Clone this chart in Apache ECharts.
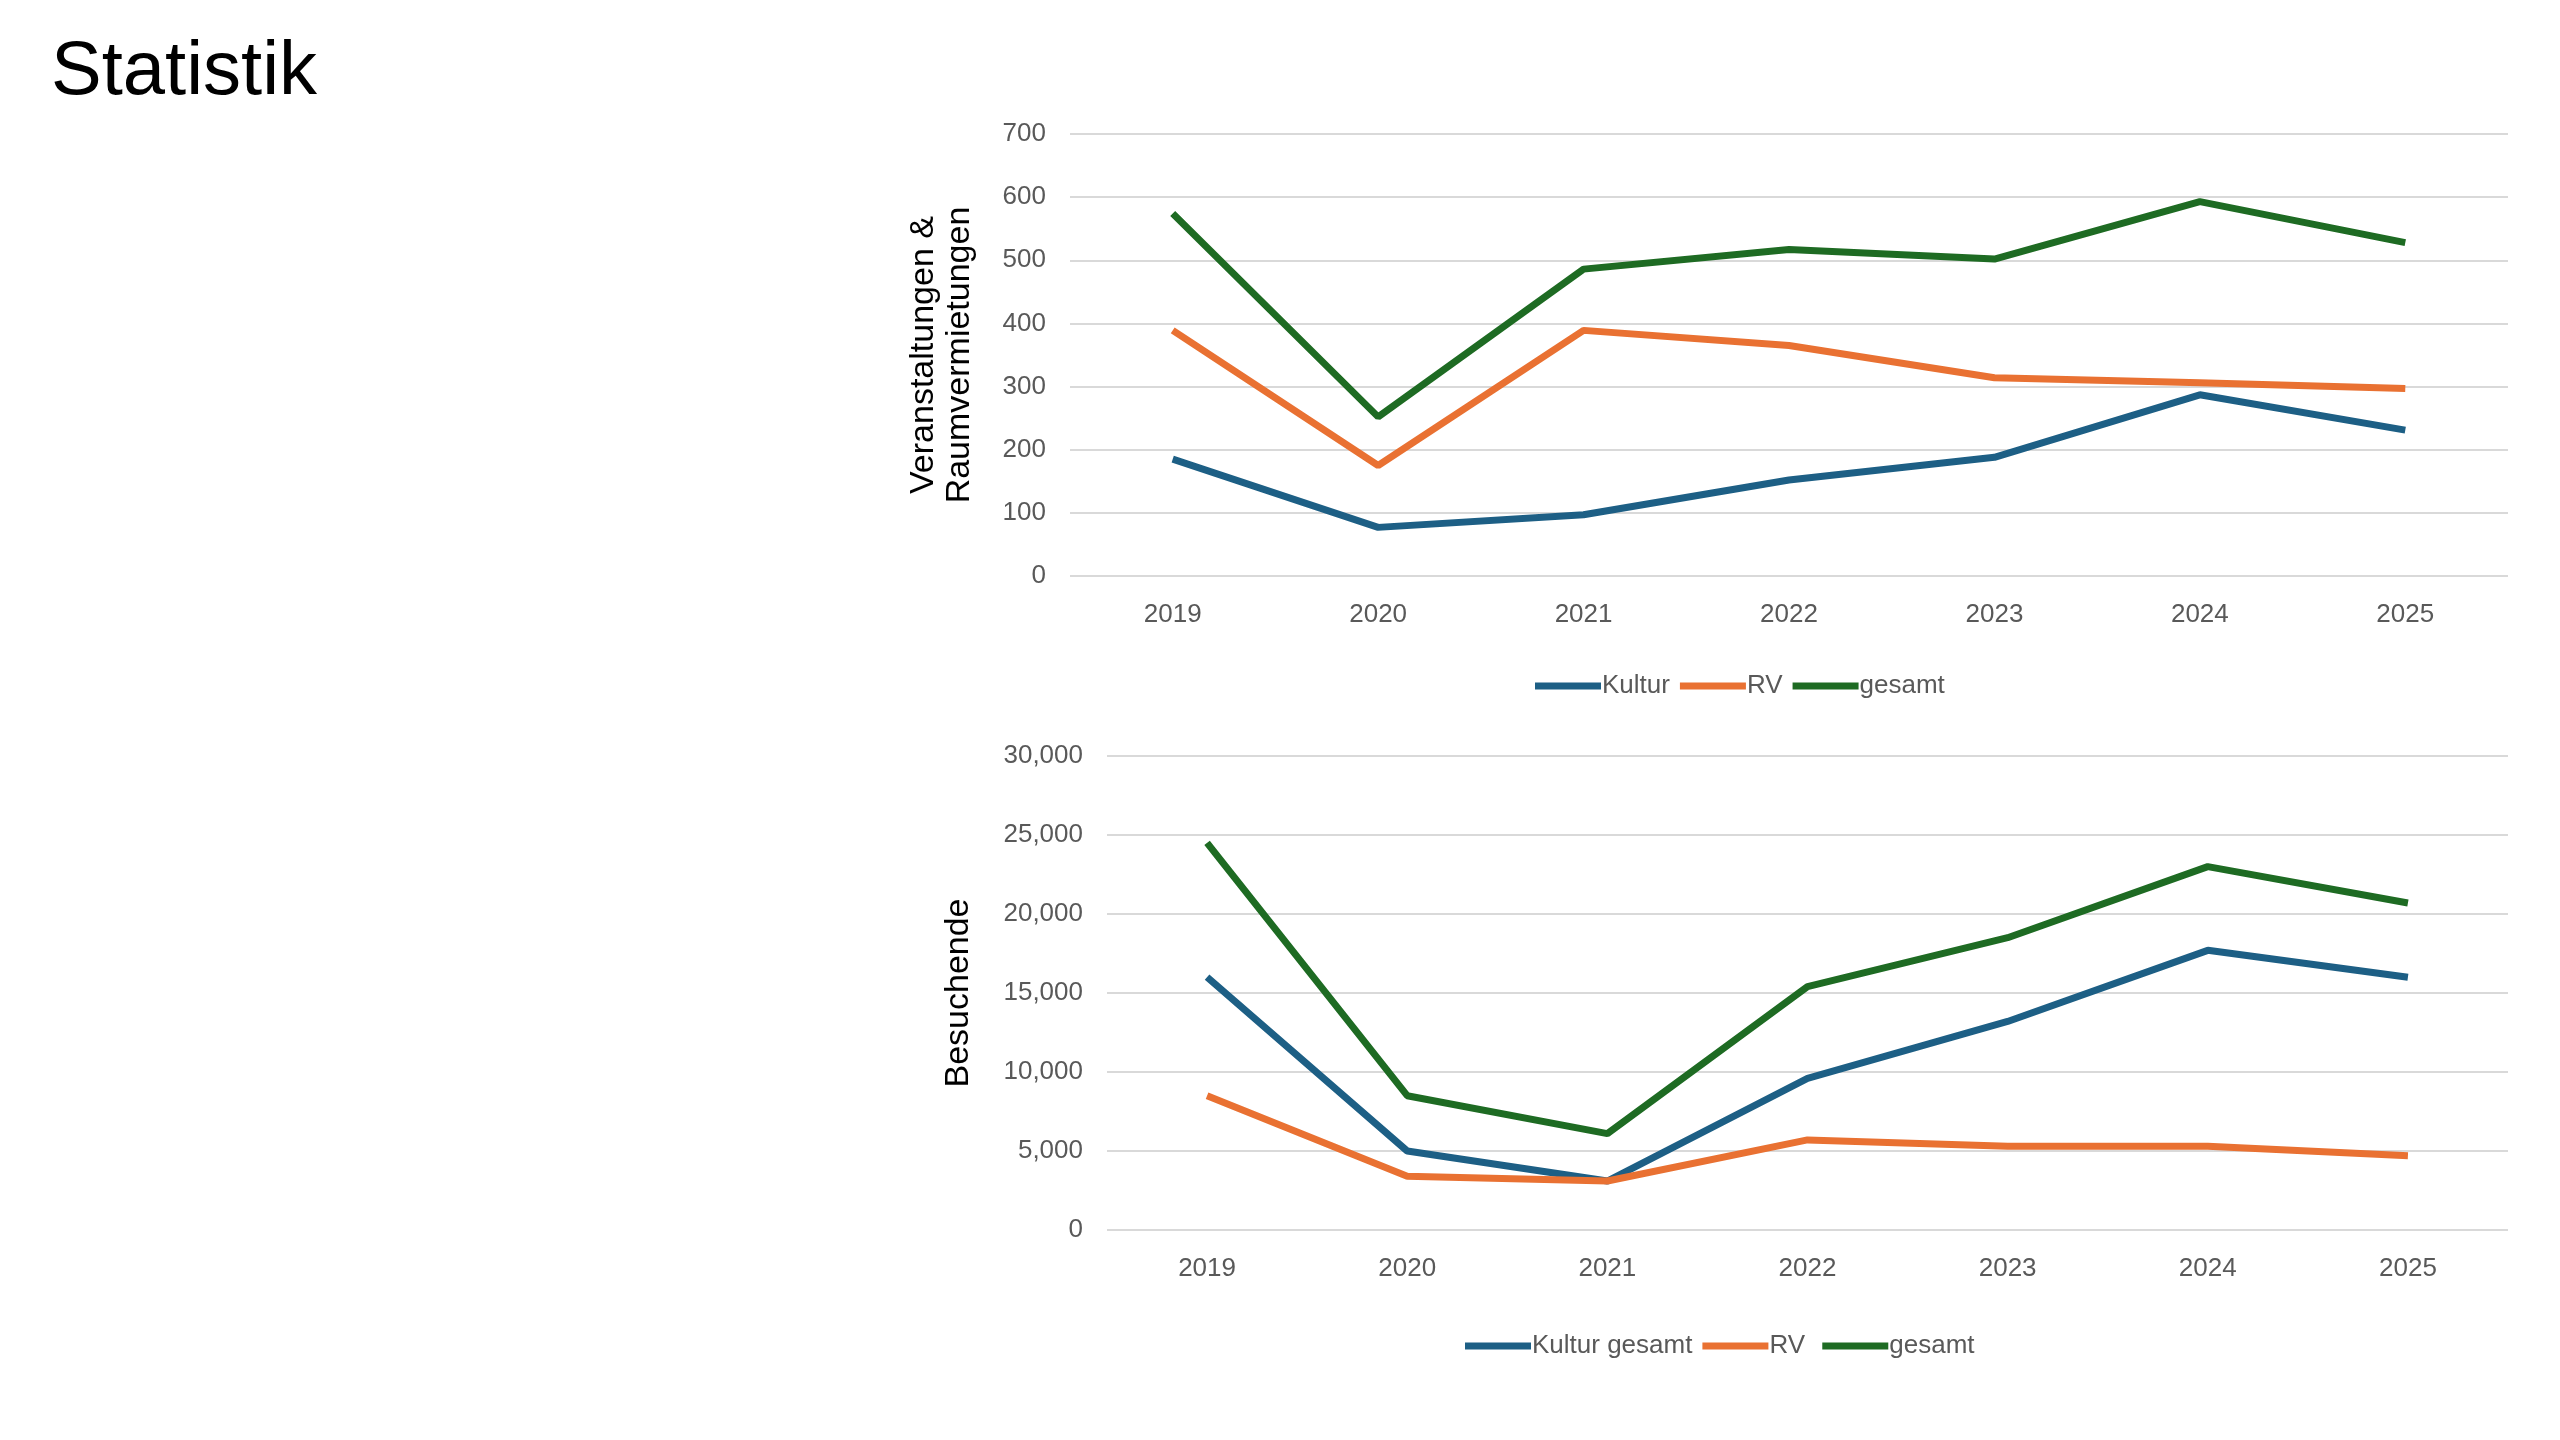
<!DOCTYPE html>
<html>
<head>
<meta charset="utf-8">
<script src="https://cdn.jsdelivr.net/npm/echarts@6/dist/echarts.min.js"></script>
<style>
  html, body { margin: 0; padding: 0; background: #fff; }
  #chart { width: 2560px; height: 1440px; }
</style>
</head>
<body>
<div id="chart"></div>
<script>
// Daten
var years = ['2019', '2020', '2021', '2022', '2023', '2024', '2025'];

var kultur = [185, 77, 97, 152, 188, 287, 231];
var rv = [389, 175, 389, 365, 314, 306, 297];
var gesamt = [574, 252, 486, 517, 502, 593, 528];

var besKultur = [16000, 5000, 3100, 9600, 13200, 17700, 16000];
var besRv = [8500, 3400, 3100, 5700, 5300, 5300, 4700];
var besGesamt = [24500, 8500, 6100, 15400, 18500, 23000, 20700];

var blue = '#1d5f85', orange = '#e97132', green = '#1e6b23';
var font = 'Liberation Sans';
var labelColor = '#595959';

function line(name, data, color, xi) {
  return {
    name: name, type: 'line', data: data,
    xAxisIndex: xi, yAxisIndex: xi,
    symbol: 'none',
    lineStyle: { width: 7, color: color },
    itemStyle: { color: color }
  };
}

var chart = echarts.init(document.getElementById('chart'));

var xAxisBase = {
  type: 'category',
  data: years,
  axisLine: { show: false },
  axisTick: { show: false },
  axisLabel: { color: labelColor, fontSize: 26, fontFamily: font, margin: 26 }
};
var yAxisBase = {
  type: 'value',
  min: 0,
  nameLocation: 'middle',
  nameTextStyle: { color: '#000', fontSize: 34, fontFamily: font, lineHeight: 36 },
  axisLine: { show: false },
  axisTick: { show: false },
  axisLabel: { color: labelColor, fontSize: 26, fontFamily: font, margin: 24 },
  splitLine: { lineStyle: { color: '#d9d9d9', width: 2 } }
};

var legendBase = {
  icon: 'rect',
  itemWidth: 66,
  itemHeight: 7,
  itemGap: 10,
  textStyle: { color: labelColor, fontSize: 26, fontFamily: font, padding: [0, 0, 0, -4] }
};

var option = {
  title: {
    text: 'Statistik',
    left: 46, top: 30,
    textStyle: { color: '#000', fontSize: 76, fontWeight: 'normal', fontFamily: font }
  },
  legend: [
    Object.assign({ data: ['Kultur', 'RV', 'gesamt'], left: 'center', top: 668 }, legendBase, { left: 1530 }),
    Object.assign({ data: ['Kultur gesamt', 'RV ', 'gesamt '], top: 1328 }, legendBase, { left: 1460 })
  ],
  grid: [
    { left: 1070, right: 52, top: 134, height: 442 },
    { left: 1107, right: 52, top: 756, height: 474 }
  ],
  xAxis: [
    Object.assign({ gridIndex: 0 }, xAxisBase),
    Object.assign({ gridIndex: 1 }, xAxisBase)
  ],
  yAxis: [
    Object.assign({}, yAxisBase, { gridIndex: 0, max: 700, interval: 100,
      name: 'Veranstaltungen &\nRaumvermietungen', nameGap: 92 }),
    Object.assign({}, yAxisBase, { gridIndex: 1, max: 30000, interval: 5000,
      name: 'Besuchende', nameGap: 130 })
  ],
  series: [
    line('Kultur', kultur, blue, 0),
    line('RV', rv, orange, 0),
    line('gesamt', gesamt, green, 0),
    line('Kultur gesamt', besKultur, blue, 1),
    line('RV ', besRv, orange, 1),
    line('gesamt ', besGesamt, green, 1)
  ]
};
chart.setOption(option);
</script>
</body>
</html>
